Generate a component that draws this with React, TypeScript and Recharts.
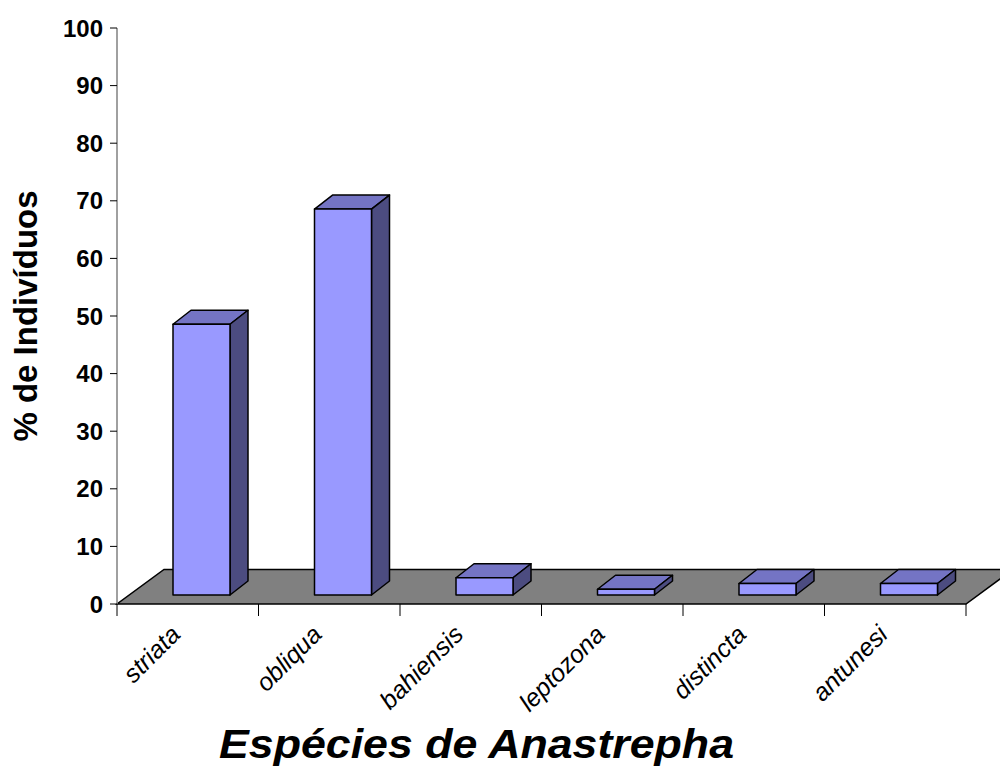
import React from "react";
import { BarChart, Bar, XAxis, YAxis, ReferenceArea, Label } from "recharts";

const species = ["striata", "obliqua", "bahiensis", "leptozona", "distincta", "antunesi"];
const percent = [47, 67, 3, 1, 2, 2];
const yTicks = [0, 10, 20, 30, 40, 50, 60, 70, 80, 90, 100];
const floorDepthValue = 6;

const data = species.map((name, i) => ({ name, value: percent[i] }));

// oblique projection offsets for the pseudo-3D look
const FLOOR_DX = 47;
const BAR_SHIFT_X = 14;
const BAR_SHIFT_Y = -9;
const BAR_DX = 18;
const BAR_DY = -14;

const FONT = "'Liberation Sans', Arial, Helvetica, sans-serif";

function Bar3D(props: any) {
  const { x, y, width, height } = props;
  const fx = x + BAR_SHIFT_X;
  const fy = y + BAR_SHIFT_Y;
  const h = Math.max(height, 0);
  const top = `${fx},${fy} ${fx + BAR_DX},${fy + BAR_DY} ${fx + width + BAR_DX},${fy + BAR_DY} ${fx + width},${fy}`;
  const side = `${fx + width},${fy} ${fx + width + BAR_DX},${fy + BAR_DY} ${fx + width + BAR_DX},${fy + h + BAR_DY} ${fx + width},${fy + h}`;
  return (
    <g stroke="#000" strokeWidth={1.5} strokeLinejoin="round">
      <polygon points={top} fill="#7474C4" />
      <polygon points={side} fill="#4C4C80" />
      <rect x={fx} y={fy} width={width} height={h} fill="#9999FF" />
    </g>
  );
}

function Floor(props: any) {
  const { x, y, width, height } = props;
  const front = y + height;
  const pts = `${x},${front} ${x + width},${front} ${x + width + FLOOR_DX},${y} ${x + FLOOR_DX},${y}`;
  return <polygon points={pts} fill="#808080" stroke="#000" strokeWidth={1.5} />;
}

function SpeciesTick(props: any) {
  const { x, y, payload, index, width } = props;
  const step = (width ?? 849) / species.length;
  const left = x - step / 2;
  const tx = x - 6;
  const ty = y + 20;
  return (
    <g>
      <line x1={left} y1={y - 12} x2={left} y2={y} stroke="#000" strokeWidth={1} />
      {index === species.length - 1 && (
        <line x1={left + step} y1={y - 12} x2={left + step} y2={y} stroke="#000" strokeWidth={1} />
      )}
      <text
        x={tx}
        y={ty}
        transform={`rotate(-45, ${tx}, ${ty})`}
        textAnchor="end"
        fontStyle="italic"
        fontSize={25}
        fontFamily={FONT}
        fill="#000"
      >
        {payload.value}
      </text>
    </g>
  );
}

export default function App() {
  return (
    <div style={{ width: 1000, height: 767, background: "#fff" }}>
      <style>{"body{margin:0}"}</style>
      <BarChart
        width={1000}
        height={767}
        data={data}
        margin={{ top: 28, right: 34, left: 0, bottom: 0 }}
      >
        <ReferenceArea
          y1={0}
          y2={floorDepthValue}
          shape={(p: any) => <Floor {...p} />}
        />
        <XAxis
          dataKey="name"
          height={163}
          interval={0}
          axisLine={false}
          tickLine={false}
          tickSize={12}
          tickMargin={0}
          tick={<SpeciesTick />}
        >
          <Label
            content={(p: any) => {
              const vb = p.viewBox;
              const cx = vb.x + vb.width / 2 - 65;
              const cy = vb.y + 154;
              return (
                <text
                  x={cx}
                  y={cy}
                  textAnchor="middle"
                  fontSize={40}
                  fontWeight="bold"
                  fontStyle="italic"
                  fontFamily={FONT}
                  textLength={515}
                  lengthAdjust="spacingAndGlyphs"
                  fill="#000"
                >
                  Espécies de Anastrepha
                </text>
              );
            }}
          />
        </XAxis>
        <YAxis
          width={117}
          domain={[0, 100]}
          ticks={yTicks}
          interval={0}
          tickSize={7}
          tickMargin={7}
          axisLine={{ stroke: "#808080", strokeWidth: 1.5 }}
          tickLine={{ stroke: "#000" }}
          tick={{ fill: "#000", fontSize: 24, fontWeight: "bold", fontFamily: FONT }}
        >
          <Label
            content={(p: any) => {
              const vb = p.viewBox;
              const cx = vb.x + 25;
              const cy = vb.y + vb.height / 2;
              return (
                <text
                  x={cx}
                  y={cy}
                  transform={`rotate(-90, ${cx}, ${cy})`}
                  textAnchor="middle"
                  dominantBaseline="central"
                  fontSize={33}
                  fontWeight="bold"
                  fontFamily={FONT}
                  fill="#000"
                >
                  % de Indivíduos
                </text>
              );
            }}
          />
        </YAxis>
        <Bar
          dataKey="value"
          barSize={57}
          isAnimationActive={false}
          shape={(p: any) => <Bar3D {...p} />}
        />
      </BarChart>
    </div>
  );
}
